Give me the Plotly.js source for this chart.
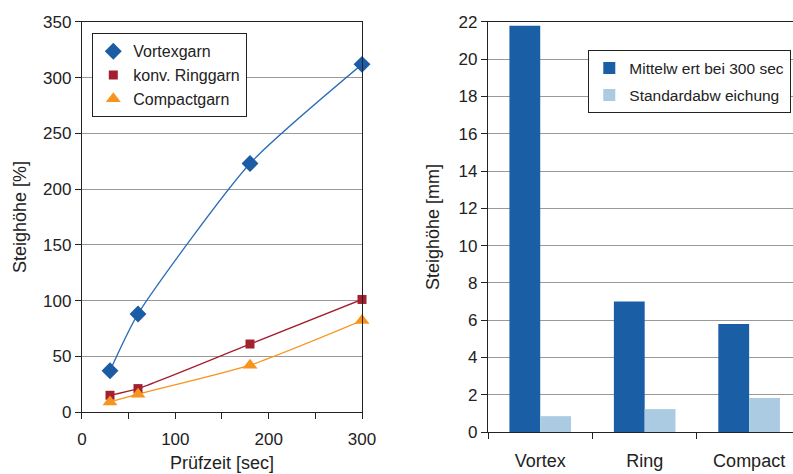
<!DOCTYPE html>
<html><head><meta charset="utf-8">
<script src="https://cdn.plot.ly/plotly-3.0.1.min.js"></script>
<style>body{margin:0;padding:0;background:#fff}#chart{width:793px;height:474px}</style>
</head><body><div id="chart"></div>
<script>
const times = [30, 60, 180, 300];
const vortex = [37, 88, 223, 312];
const ringgarn = [15, 21, 61, 101];
const compactgarn = [9, 16, 42, 82];
const categories = ['Vortex', 'Ring', 'Compact'];
const mittelwert = [21.8, 7.0, 5.8];
const standardabw = [0.85, 1.23, 1.82];
const xTickVals = [0, 50, 100, 150, 200, 250, 300];
const xTickText = ['0', '', '100', '', '200', '', '300'];

const FONT = 'Liberation Sans, Arial, sans-serif';
const series = [
  {y: vortex, name: 'Vortexgarn', color: '#2c6db5', mcolor: '#1c5ca5', symbol: 'diamond', size: 13},
  {y: ringgarn, name: 'konv. Ringgarn', color: '#a3202f', mcolor: '#a3202f', symbol: 'square', size: 9},
  {y: compactgarn, name: 'Compactgarn', color: '#f7941d', mcolor: '#f7941d', symbol: 'triangle-up', size: 13}
];
const traces = [];
series.forEach(s => traces.push({x: times, y: s.y, type: 'scatter', mode: 'lines', showlegend: false,
  line: {color: s.color, width: 1.3, shape: 'spline', smoothing: 0.6}, xaxis: 'x', yaxis: 'y', cliponaxis: false}));
series.forEach(s => traces.push({x: times, y: s.y, name: s.name, type: 'scatter', mode: 'markers',
  marker: {symbol: s.symbol, size: s.size, color: s.mcolor}, xaxis: 'x', yaxis: 'y', legend: 'legend', cliponaxis: false}));
traces.push({x: categories, y: mittelwert, name: 'Mittelw ert bei 300 sec', type: 'bar', legendgroup: 'a',
   marker: {color: '#1a5ea5'}, xaxis: 'x2', yaxis: 'y2', legend: 'legend2'});
traces.push({x: categories, y: standardabw, name: 'Standardabw eichung', type: 'bar', legendgroup: 'b',
   marker: {color: '#abcbe2'}, xaxis: 'x2', yaxis: 'y2', legend: 'legend2'});

const layout = {
  width: 793, height: 474,
  margin: {l: 0, r: 0, t: 0, b: 0},
  paper_bgcolor: '#fff', plot_bgcolor: '#fff',
  font: {family: FONT, color: '#222', size: 17},
  barmode: 'group', bargap: 0.41, bargroupgap: 0,
  xaxis: {domain: [0.1034, 0.4565], range: [0, 300], tickvals: xTickVals, ticktext: xTickText,
    ticks: 'outside', ticklen: 6, tickcolor: '#222', showgrid: false, zeroline: false,
    showline: true, linecolor: '#222', linewidth: 1.2, mirror: true, ticklabelstandoff: 5,
    tickfont: {size: 17}, title: {text: 'Prüfzeit [sec]', font: {size: 18}, standoff: 8}},
  yaxis: {domain: [0.1308, 0.9536], range: [0, 350], dtick: 50,
    ticks: 'outside', ticklen: 6, tickcolor: '#222', showgrid: true, gridcolor: '#999', gridwidth: 1,
    zeroline: false, showline: true, linecolor: '#222', linewidth: 1.2, mirror: true,
    tickfont: {size: 17}, title: {text: 'Steighöhe [%]', font: {size: 18}, standoff: 11}},
  xaxis2: {domain: [0.6154, 1.0], range: [-0.5, 2.42], type: 'category', anchor: 'y2',
    ticks: 'outside', tickson: 'boundaries', ticklen: 6, tickcolor: '#222', showgrid: false,
    zeroline: false, showline: true, linecolor: '#222', linewidth: 1.2, mirror: true, ticklabelstandoff: 12,
    tickfont: {size: 18}},
  yaxis2: {domain: [0.0886, 0.9536], range: [0, 22], dtick: 2, anchor: 'x2',
    ticks: 'outside', ticklen: 6, tickcolor: '#222', showgrid: true, gridcolor: '#999', gridwidth: 1,
    zeroline: false, showline: true, linecolor: '#222', linewidth: 1.2,
    tickfont: {size: 17}, title: {text: 'Steighöhe [mm]', font: {size: 18}, standoff: 14}},
  legend: {x: 92/793, y: 1 - 33/474, xanchor: 'left', yanchor: 'top', xref: 'paper', yref: 'paper',
    bgcolor: '#fff', bordercolor: '#222', borderwidth: 1.3, font: {size: 16},
    tracegroupgap: 0, itemwidth: 30},
  legend2: {x: 588/793, y: 1 - 50/474, xanchor: 'left', yanchor: 'top', xref: 'paper', yref: 'paper',
    bgcolor: '#fff', bordercolor: '#222', borderwidth: 1.3, font: {size: 15.5},
    traceorder: 'grouped', tracegroupgap: 4, itemwidth: 30},
  showlegend: true
};

Plotly.newPlot('chart', traces, layout, {displayModeBar: false, staticPlot: true});
</script></body></html>
